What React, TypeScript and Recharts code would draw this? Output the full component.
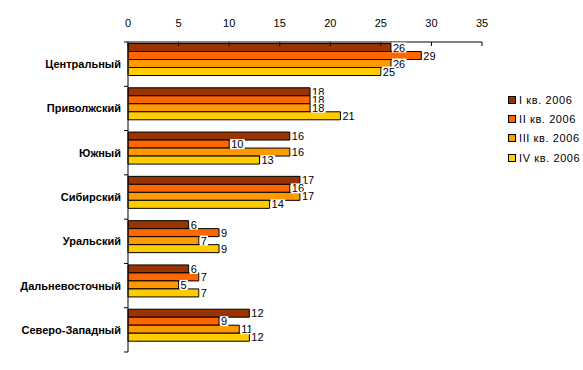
import React from 'react';
import { BarChart, Bar, XAxis, YAxis, LabelList } from 'recharts';

const categories = ['Центральный', 'Приволжский', 'Южный', 'Сибирский', 'Уральский', 'Дальневосточный', 'Северо-Западный'];
const q1 = [26, 18, 16, 17, 6, 6, 12];
const q2 = [29, 18, 10, 16, 9, 7, 9];
const q3 = [26, 18, 16, 17, 7, 5, 11];
const q4 = [25, 21, 13, 14, 9, 7, 12];
const seriesNames = ['I кв. 2006', 'II кв. 2006', 'III кв. 2006', 'IV кв. 2006'];
const seriesKeys = ['q1', 'q2', 'q3', 'q4'];
const colors = ['#993300', '#FF6600', '#FF9900', '#FFCC00'];
const xTicks = [0, 5, 10, 15, 20, 25, 30, 35];

const data = categories.map((name, i) => ({ name, q1: q1[i], q2: q2[i], q3: q3[i], q4: q4[i] }));

const W = 583;
const H = 370;
const M = { top: 0, right: 101, bottom: 18, left: 0 };
const PLOT_LEFT = 128;
const AXIS_TOP = 42;
const PLOT_H = H - M.bottom - AXIS_TOP;
const BAND = PLOT_H / categories.length;
const FONT = '"Liberation Sans", Arial, sans-serif';

const XTick = (props: any) => {
  const { x, payload } = props;
  return (
    <g>
      <line x1={x} x2={x} y1={AXIS_TOP} y2={AXIS_TOP + 4} stroke="#000" />
      <text x={x} y={AXIS_TOP - 15} textAnchor="middle" fontSize={11} fontFamily={FONT} fill="#000">
        {payload.value}
      </text>
    </g>
  );
};

const YTick = (props: any) => {
  const { y, payload, index } = props;
  const isLast = index === categories.length - 1;
  return (
    <g>
      <line x1={PLOT_LEFT - 4} x2={PLOT_LEFT} y1={y - BAND / 2} y2={y - BAND / 2} stroke="#000" />
      {isLast && <line x1={PLOT_LEFT - 4} x2={PLOT_LEFT} y1={y + BAND / 2} y2={y + BAND / 2} stroke="#000" />}
      <text x={PLOT_LEFT - 7} y={y + 4} textAnchor="end" fontSize={11} fontWeight="bold" fontFamily={FONT} fill="#000">
        {payload.value}
      </text>
    </g>
  );
};

const ValueLabel = (props: any) => {
  const { x, y, width, height, value } = props;
  if (value === undefined || value === null) return null;
  const s = String(value);
  const tw = s.length * 6.3 + 2;
  const lx = x + width + 1;
  const cy = y + height / 2;
  return (
    <g>
      <rect x={lx} y={cy - 5} width={tw} height={10} fill="#fff" />
      <text x={lx + 1} y={cy + 4} fontSize={11} fontFamily={FONT} fill="#000">
        {s}
      </text>
    </g>
  );
};

const LegendBox = () => (
  <div style={{ position: 'absolute', left: 508, top: 90, fontFamily: FONT, fontSize: 11, color: '#000' }}>
    {seriesNames.map((n, i) => (
      <div key={n} style={{ display: 'flex', alignItems: 'center', height: 19.4, whiteSpace: 'nowrap' }}>
        <span
          style={{
            display: 'inline-block',
            width: 6,
            height: 6,
            background: colors[i],
            border: '1px solid #000',
            marginRight: 3,
          }}
        />
        <span style={{ letterSpacing: 0.6 }}>{n}</span>
      </div>
    ))}
  </div>
);

export default function App() {
  return (
    <div style={{ position: 'absolute', left: 0, top: 0, width: W, height: H, background: '#fff' }}>
      <BarChart
        width={W}
        height={H}
        data={data}
        layout="vertical"
        margin={M}
        barCategoryGap={1.5}
        barGap={0}
      >
        <XAxis
          type="number"
          orientation="top"
          domain={[0, 35]}
          ticks={xTicks}
          height={AXIS_TOP}
          tick={<XTick />}
          tickLine={false}
          axisLine={{ stroke: '#000' }}
          interval={0}
        />
        <YAxis
          type="category"
          dataKey="name"
          width={PLOT_LEFT}
          tick={<YTick />}
          tickLine={false}
          axisLine={{ stroke: '#000' }}
          interval={0}
        />
        {seriesKeys.map((k, i) => (
          <Bar key={k} dataKey={k} name={seriesNames[i]} fill={colors[i]} stroke="#000" strokeWidth={1} isAnimationActive={false}>
            <LabelList dataKey={k} content={<ValueLabel />} />
          </Bar>
        ))}
        <Bar dataKey="spacer" legendType="none" fill="none" isAnimationActive={false} />
      </BarChart>
      <LegendBox />
    </div>
  );
}
